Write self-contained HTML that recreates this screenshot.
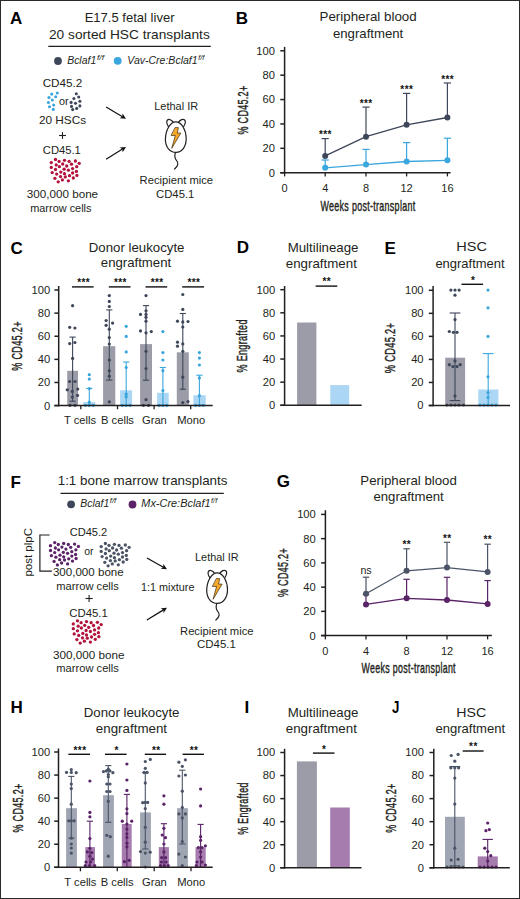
<!DOCTYPE html><html><head><meta charset="utf-8"><style>html,body{margin:0;padding:0;background:#fff}svg{display:block}text{font-family:"Liberation Sans",sans-serif}.cd{stroke:#231f20;stroke-width:.4px;letter-spacing:.5px}</style></head><body>
<svg width="520" height="899" viewBox="0 0 520 899" fill="#231f20">
<rect x="0" y="0" width="520" height="899" fill="#fff"/>
<text x="10" y="24" font-size="17" font-weight="bold" fill="#000">A</text>
<text x="129.6" y="21.8" font-size="12.8" text-anchor="middle" textLength="89.9" lengthAdjust="spacingAndGlyphs">E17.5 fetal liver</text>
<text x="129.4" y="38.7" font-size="12.8" text-anchor="middle" textLength="160.8" lengthAdjust="spacingAndGlyphs">20 sorted HSC transplants</text>
<line x1="48.3" y1="46.3" x2="210.8" y2="46.3" stroke="#231f20" stroke-width="1.2"/>
<circle cx="58" cy="61" r="3.9" fill="#3e4759"/>
<text x="67.2" y="63.8" font-size="10.3" textLength="29" lengthAdjust="spacingAndGlyphs" font-style="italic">Bclaf1</text>
<text x="96.9" y="59.6" font-size="7.4" textLength="7.2" lengthAdjust="spacingAndGlyphs" font-style="italic">f/f</text>
<circle cx="117.7" cy="60.8" r="3.9" fill="#3aa6de"/>
<text x="127.3" y="63.8" font-size="10.3" textLength="70.3" lengthAdjust="spacingAndGlyphs" font-style="italic">Vav-Cre:Bclaf1</text>
<text x="198.2" y="59.6" font-size="7.4" textLength="6.2" lengthAdjust="spacingAndGlyphs" font-style="italic">f/f</text>
<text x="62.5" y="86.9" font-size="10.4" text-anchor="middle" textLength="39.7" lengthAdjust="spacingAndGlyphs">CD45.2</text>
<circle cx="51.7" cy="94.1" r="1.55" fill="#3aa6de"/>
<circle cx="57.3" cy="93" r="1.55" fill="#3aa6de"/>
<circle cx="49" cy="97.5" r="1.55" fill="#3aa6de"/>
<circle cx="55.7" cy="96.7" r="1.55" fill="#3aa6de"/>
<circle cx="52.3" cy="100" r="1.55" fill="#3aa6de"/>
<circle cx="48.4" cy="102.5" r="1.55" fill="#3aa6de"/>
<circle cx="53.7" cy="105" r="1.55" fill="#3aa6de"/>
<circle cx="49.5" cy="106.7" r="1.55" fill="#3aa6de"/>
<circle cx="53.3" cy="109.4" r="1.55" fill="#3aa6de"/>
<circle cx="76.3" cy="93.8" r="1.55" fill="#3e4759"/>
<circle cx="78.7" cy="97" r="1.55" fill="#3e4759"/>
<circle cx="73.9" cy="98.5" r="1.55" fill="#3e4759"/>
<circle cx="79.9" cy="101.3" r="1.55" fill="#3e4759"/>
<circle cx="71.1" cy="102.4" r="1.55" fill="#3e4759"/>
<circle cx="75.5" cy="103.2" r="1.55" fill="#3e4759"/>
<circle cx="79.9" cy="105.9" r="1.55" fill="#3e4759"/>
<circle cx="71.5" cy="106.4" r="1.55" fill="#3e4759"/>
<circle cx="76.7" cy="108.4" r="1.55" fill="#3e4759"/>
<circle cx="72.7" cy="109.6" r="1.55" fill="#3e4759"/>
<text x="63.7" y="104.6" font-size="10.4" text-anchor="middle" textLength="9.6" lengthAdjust="spacingAndGlyphs">or</text>
<text x="62.55" y="123.8" font-size="10.4" text-anchor="middle" textLength="47.3" lengthAdjust="spacingAndGlyphs">20 HSCs</text>
<line x1="59" y1="135.5" x2="66" y2="135.5" stroke="#231f20" stroke-width="1.1"/>
<line x1="62.5" y1="132.1" x2="62.5" y2="138.9" stroke="#231f20" stroke-width="1.1"/>
<text x="61.8" y="154.2" font-size="10.4" text-anchor="middle" textLength="38" lengthAdjust="spacingAndGlyphs">CD45.1</text>
<circle cx="55.5" cy="159.5" r="1.65" fill="#b3123a"/>
<circle cx="59.1" cy="161.4" r="1.65" fill="#b3123a"/>
<circle cx="64.5" cy="160.3" r="1.65" fill="#b3123a"/>
<circle cx="69.1" cy="161.4" r="1.65" fill="#b3123a"/>
<circle cx="75.4" cy="161" r="1.65" fill="#b3123a"/>
<circle cx="79.2" cy="163.3" r="1.65" fill="#b3123a"/>
<circle cx="51.3" cy="162.6" r="1.65" fill="#b3123a"/>
<circle cx="56.2" cy="164.9" r="1.65" fill="#b3123a"/>
<circle cx="62.7" cy="164" r="1.65" fill="#b3123a"/>
<circle cx="71.5" cy="164.2" r="1.65" fill="#b3123a"/>
<circle cx="66.7" cy="166" r="1.65" fill="#b3123a"/>
<circle cx="59.4" cy="166.7" r="1.65" fill="#b3123a"/>
<circle cx="76.7" cy="166.7" r="1.65" fill="#b3123a"/>
<circle cx="51.3" cy="167.4" r="1.65" fill="#b3123a"/>
<circle cx="55.5" cy="169.5" r="1.65" fill="#b3123a"/>
<circle cx="64.1" cy="169.2" r="1.65" fill="#b3123a"/>
<circle cx="72.6" cy="168.6" r="1.65" fill="#b3123a"/>
<circle cx="68.4" cy="170.2" r="1.65" fill="#b3123a"/>
<circle cx="76.4" cy="171.4" r="1.65" fill="#b3123a"/>
<circle cx="52.2" cy="172.6" r="1.65" fill="#b3123a"/>
<circle cx="60.8" cy="172.1" r="1.65" fill="#b3123a"/>
<circle cx="64.5" cy="173.7" r="1.65" fill="#b3123a"/>
<circle cx="56.7" cy="174.1" r="1.65" fill="#b3123a"/>
<circle cx="72.6" cy="173" r="1.65" fill="#b3123a"/>
<circle cx="69.5" cy="175.7" r="1.65" fill="#b3123a"/>
<circle cx="76.9" cy="175.4" r="1.65" fill="#b3123a"/>
<circle cx="60.5" cy="176.6" r="1.65" fill="#b3123a"/>
<circle cx="65.3" cy="176.9" r="1.65" fill="#b3123a"/>
<circle cx="54.9" cy="178.3" r="1.65" fill="#b3123a"/>
<circle cx="73.3" cy="178" r="1.65" fill="#b3123a"/>
<circle cx="62.4" cy="179.9" r="1.65" fill="#b3123a"/>
<circle cx="68.4" cy="180.8" r="1.65" fill="#b3123a"/>
<circle cx="58.2" cy="181.8" r="1.65" fill="#b3123a"/>
<text x="62.45" y="198.2" font-size="10.4" text-anchor="middle" textLength="71.3" lengthAdjust="spacingAndGlyphs">300,000 bone</text>
<text x="60.85" y="211.6" font-size="10.4" text-anchor="middle" textLength="61.3" lengthAdjust="spacingAndGlyphs">marrow cells</text>
<line x1="106.1" y1="107" x2="122.04" y2="116.45" stroke="#111" stroke-width="1.25"/>
<path d="M126,118.8 L119.81,118.27 L122.22,116.56 L122.56,113.62 Z" fill="#111"/>
<line x1="106.1" y1="159.2" x2="122.09" y2="149.32" stroke="#111" stroke-width="1.25"/>
<path d="M126,146.9 L122.66,152.14 L122.26,149.21 L119.82,147.55 Z" fill="#111"/>
<text x="176.2" y="110.4" font-size="10.4" text-anchor="middle" textLength="43.9" lengthAdjust="spacingAndGlyphs">Lethal IR</text>
<g transform="translate(0 0)" fill="none" stroke="#231f20" stroke-width="1.2" stroke-linecap="round" stroke-linejoin="round">
<path d="M168.7,126.9 C167.1,124.6 166.1,121.6 167.5,120 C168.9,118.7 171.6,119.8 173.3,122.4"/>
<path d="M183.7,126.5 C185.2,124.1 185.8,121.1 184.4,119.8 C183,118.6 180.3,119.7 178.6,122.1"/>
<path d="M175.8,121.8 C181.5,121.8 186.2,130 186.2,138.5 C186.2,146.8 181.8,152.4 176,152.4 C170,152.4 165.4,147 165.4,139.8 C165.4,130.5 170.2,121.8 175.8,121.8 Z" fill="#fff"/>
<path d="M175.4,152.6 C174.4,155.8 174.7,158.4 176.6,160.6 C178.6,162.8 178.5,165.6 174.6,169"/>
<path d="M175.4,127.6 L178.4,127.6 L177.3,133.1 L180.8,133.1 L171.8,148.3 L175.3,135.4 L171.4,135.4 Z" fill="#f5a82a" stroke="#3b2a0c" stroke-width="0.7"/>
</g>
<text x="176.35" y="183.8" font-size="10.4" text-anchor="middle" textLength="73.5" lengthAdjust="spacingAndGlyphs">Recipient mice</text>
<text x="175.2" y="197.5" font-size="10.4" text-anchor="middle" textLength="38.4" lengthAdjust="spacingAndGlyphs">CD45.1</text>
<text x="235.8" y="24.4" font-size="17" font-weight="bold" fill="#000">B</text>
<text x="368.1" y="21.3" font-size="12.4" text-anchor="middle" textLength="97.2" lengthAdjust="spacingAndGlyphs">Peripheral blood</text>
<text x="368.1" y="38" font-size="12.4" text-anchor="middle" textLength="70.4" lengthAdjust="spacingAndGlyphs">engraftment</text>
<text x="247.6" y="110" font-size="13.8" text-anchor="middle" textLength="49" lengthAdjust="spacingAndGlyphs" transform="rotate(-90 247.6 110)" class="cd">% CD45.2+</text>
<line x1="284.6" y1="172.7" x2="284.6" y2="176.4" stroke="#231f20" stroke-width="1.3"/>
<text x="284.6" y="191.6" font-size="11" text-anchor="middle">0</text>
<line x1="325.2" y1="172.7" x2="325.2" y2="176.4" stroke="#231f20" stroke-width="1.3"/>
<text x="325.2" y="191.6" font-size="11" text-anchor="middle">4</text>
<line x1="366" y1="172.7" x2="366" y2="176.4" stroke="#231f20" stroke-width="1.3"/>
<text x="366" y="191.6" font-size="11" text-anchor="middle">8</text>
<line x1="406.6" y1="172.7" x2="406.6" y2="176.4" stroke="#231f20" stroke-width="1.3"/>
<text x="406.6" y="191.6" font-size="11" text-anchor="middle">12</text>
<line x1="447.4" y1="172.7" x2="447.4" y2="176.4" stroke="#231f20" stroke-width="1.3"/>
<text x="447.4" y="191.6" font-size="11" text-anchor="middle">16</text>
<text x="368" y="210.5" font-size="13.9" text-anchor="middle" textLength="95" lengthAdjust="spacingAndGlyphs" class="cd">Weeks post-transplant</text>
<line x1="325.2" y1="160" x2="325.2" y2="167.8" stroke="#3aa6de" stroke-width="1.2"/>
<line x1="321.6" y1="160" x2="328.8" y2="160" stroke="#3aa6de" stroke-width="1.2"/>
<line x1="366" y1="149.4" x2="366" y2="164.6" stroke="#3aa6de" stroke-width="1.2"/>
<line x1="362.4" y1="149.4" x2="369.6" y2="149.4" stroke="#3aa6de" stroke-width="1.2"/>
<line x1="406.6" y1="142.6" x2="406.6" y2="161.5" stroke="#3aa6de" stroke-width="1.2"/>
<line x1="403" y1="142.6" x2="410.2" y2="142.6" stroke="#3aa6de" stroke-width="1.2"/>
<line x1="447.4" y1="138.2" x2="447.4" y2="160.3" stroke="#3aa6de" stroke-width="1.2"/>
<line x1="443.8" y1="138.2" x2="451" y2="138.2" stroke="#3aa6de" stroke-width="1.2"/>
<polyline points="325.2,167.8 366,164.6 406.6,161.5 447.4,160.3" fill="none" stroke="#3aa6de" stroke-width="1.3"/>
<line x1="325.2" y1="138.6" x2="325.2" y2="155.9" stroke="#3e4759" stroke-width="1.2"/>
<line x1="321.6" y1="138.6" x2="328.8" y2="138.6" stroke="#3e4759" stroke-width="1.2"/>
<line x1="366" y1="107.1" x2="366" y2="136.7" stroke="#3e4759" stroke-width="1.2"/>
<line x1="362.4" y1="107.1" x2="369.6" y2="107.1" stroke="#3e4759" stroke-width="1.2"/>
<line x1="406.6" y1="93.4" x2="406.6" y2="124.8" stroke="#3e4759" stroke-width="1.2"/>
<line x1="403" y1="93.4" x2="410.2" y2="93.4" stroke="#3e4759" stroke-width="1.2"/>
<line x1="447.4" y1="83" x2="447.4" y2="117.5" stroke="#3e4759" stroke-width="1.2"/>
<line x1="443.8" y1="83" x2="451" y2="83" stroke="#3e4759" stroke-width="1.2"/>
<polyline points="325.2,155.9 366,136.7 406.6,124.8 447.4,117.5" fill="none" stroke="#3e4759" stroke-width="1.3"/>
<circle cx="325.2" cy="167.8" r="3" fill="#3aa6de"/>
<circle cx="366" cy="164.6" r="3" fill="#3aa6de"/>
<circle cx="406.6" cy="161.5" r="3" fill="#3aa6de"/>
<circle cx="447.4" cy="160.3" r="3" fill="#3aa6de"/>
<circle cx="325.2" cy="155.9" r="3" fill="#3e4759"/>
<circle cx="366" cy="136.7" r="3" fill="#3e4759"/>
<circle cx="406.6" cy="124.8" r="3" fill="#3e4759"/>
<circle cx="447.4" cy="117.5" r="3" fill="#3e4759"/>
<text x="325.4" y="138.1" font-size="10" text-anchor="middle" font-weight="bold" fill="#111" letter-spacing="0.4">***</text>
<text x="366.2" y="106.8" font-size="10" text-anchor="middle" font-weight="bold" fill="#111" letter-spacing="0.4">***</text>
<text x="406.8" y="92.9" font-size="10" text-anchor="middle" font-weight="bold" fill="#111" letter-spacing="0.4">***</text>
<text x="447.6" y="82.6" font-size="10" text-anchor="middle" font-weight="bold" fill="#111" letter-spacing="0.4">***</text>
<text x="10.4" y="253.9" font-size="17" font-weight="bold" fill="#000">C</text>
<text x="136.6" y="252.3" font-size="12.4" text-anchor="middle" textLength="95.7" lengthAdjust="spacingAndGlyphs">Donor leukocyte</text>
<text x="136" y="267.3" font-size="12.4" text-anchor="middle" textLength="70.4" lengthAdjust="spacingAndGlyphs">engraftment</text>
<text x="21.6" y="346" font-size="13.8" text-anchor="middle" textLength="49.5" lengthAdjust="spacingAndGlyphs" transform="rotate(-90 21.6 346)" class="cd">% CD45.2+</text>
<line x1="80.8" y1="405.6" x2="80.8" y2="409.3" stroke="#231f20" stroke-width="1.3"/>
<line x1="117.5" y1="405.6" x2="117.5" y2="409.3" stroke="#231f20" stroke-width="1.3"/>
<line x1="154.1" y1="405.6" x2="154.1" y2="409.3" stroke="#231f20" stroke-width="1.3"/>
<line x1="190.7" y1="405.6" x2="190.7" y2="409.3" stroke="#231f20" stroke-width="1.3"/>
<text x="80" y="424.3" font-size="11.2" text-anchor="middle">T cells</text>
<text x="117.5" y="424.3" font-size="11.2" text-anchor="middle">B cells</text>
<text x="154.4" y="424.3" font-size="11.2" text-anchor="middle">Gran</text>
<text x="191.2" y="424.3" font-size="11.2" text-anchor="middle">Mono</text>
<rect x="67.2" y="370.8" width="10.8" height="34.8" fill="#9c9ca8"/>
<line x1="72.6" y1="337.1" x2="72.6" y2="401.2" stroke="#3e4759" stroke-width="1.1"/>
<line x1="69.5" y1="337.1" x2="75.7" y2="337.1" stroke="#3e4759" stroke-width="1.1"/>
<line x1="69.5" y1="401.2" x2="75.7" y2="401.2" stroke="#3e4759" stroke-width="1.1"/>
<circle cx="72.6" cy="305.7" r="1.6" fill="#3e4759"/>
<circle cx="69.7" cy="327.3" r="1.6" fill="#3e4759"/>
<circle cx="74.9" cy="328" r="1.6" fill="#3e4759"/>
<circle cx="69.7" cy="343.6" r="1.6" fill="#3e4759"/>
<circle cx="74.9" cy="342.5" r="1.6" fill="#3e4759"/>
<circle cx="72.6" cy="358.4" r="1.6" fill="#3e4759"/>
<circle cx="69.6" cy="381.5" r="1.6" fill="#3e4759"/>
<circle cx="75" cy="381.5" r="1.6" fill="#3e4759"/>
<circle cx="67.3" cy="389.8" r="1.6" fill="#3e4759"/>
<circle cx="77.7" cy="389.1" r="1.6" fill="#3e4759"/>
<circle cx="72.3" cy="391.4" r="1.6" fill="#3e4759"/>
<circle cx="77.5" cy="395.4" r="1.6" fill="#3e4759"/>
<circle cx="72.3" cy="397.1" r="1.6" fill="#3e4759"/>
<circle cx="70" cy="405.3" r="1.6" fill="#3e4759"/>
<circle cx="75" cy="405.3" r="1.6" fill="#3e4759"/>
<rect x="103.1" y="346.2" width="12.2" height="59.4" fill="#9c9ca8"/>
<line x1="109.3" y1="309.9" x2="109.3" y2="380.1" stroke="#3e4759" stroke-width="1.1"/>
<line x1="106.2" y1="309.9" x2="112.4" y2="309.9" stroke="#3e4759" stroke-width="1.1"/>
<line x1="106.2" y1="380.1" x2="112.4" y2="380.1" stroke="#3e4759" stroke-width="1.1"/>
<circle cx="109.3" cy="295.6" r="1.6" fill="#3e4759"/>
<circle cx="109.3" cy="301.4" r="1.6" fill="#3e4759"/>
<circle cx="109.3" cy="306.5" r="1.6" fill="#3e4759"/>
<circle cx="106.1" cy="320.5" r="1.6" fill="#3e4759"/>
<circle cx="106.1" cy="325.3" r="1.6" fill="#3e4759"/>
<circle cx="112.6" cy="323.1" r="1.6" fill="#3e4759"/>
<circle cx="109.3" cy="329.2" r="1.6" fill="#3e4759"/>
<circle cx="109.3" cy="337.6" r="1.6" fill="#3e4759"/>
<circle cx="109.3" cy="344.1" r="1.6" fill="#3e4759"/>
<circle cx="109.3" cy="360" r="1.6" fill="#3e4759"/>
<circle cx="109.3" cy="370.8" r="1.6" fill="#3e4759"/>
<circle cx="109.3" cy="376.2" r="1.6" fill="#3e4759"/>
<circle cx="109.3" cy="401.8" r="1.6" fill="#3e4759"/>
<rect x="140.1" y="344.1" width="11.9" height="61.5" fill="#9c9ca8"/>
<line x1="146" y1="305.6" x2="146" y2="380.2" stroke="#3e4759" stroke-width="1.1"/>
<line x1="142.9" y1="305.6" x2="149.1" y2="305.6" stroke="#3e4759" stroke-width="1.1"/>
<line x1="142.9" y1="380.2" x2="149.1" y2="380.2" stroke="#3e4759" stroke-width="1.1"/>
<circle cx="146" cy="295.6" r="1.6" fill="#3e4759"/>
<circle cx="146" cy="310.8" r="1.6" fill="#3e4759"/>
<circle cx="140.5" cy="314.4" r="1.6" fill="#3e4759"/>
<circle cx="146" cy="314.4" r="1.6" fill="#3e4759"/>
<circle cx="146" cy="317.3" r="1.6" fill="#3e4759"/>
<circle cx="146" cy="321.2" r="1.6" fill="#3e4759"/>
<circle cx="140.5" cy="330.9" r="1.6" fill="#3e4759"/>
<circle cx="151.3" cy="331.6" r="1.6" fill="#3e4759"/>
<circle cx="146" cy="332.8" r="1.6" fill="#3e4759"/>
<circle cx="146" cy="351.3" r="1.6" fill="#3e4759"/>
<circle cx="146" cy="368.5" r="1.6" fill="#3e4759"/>
<circle cx="146" cy="399.7" r="1.6" fill="#3e4759"/>
<circle cx="143.4" cy="405.3" r="1.6" fill="#3e4759"/>
<circle cx="148.6" cy="405.3" r="1.6" fill="#3e4759"/>
<rect x="176.8" y="352.3" width="12" height="53.3" fill="#9c9ca8"/>
<line x1="182.8" y1="313.5" x2="182.8" y2="389.2" stroke="#3e4759" stroke-width="1.1"/>
<line x1="179.7" y1="313.5" x2="185.9" y2="313.5" stroke="#3e4759" stroke-width="1.1"/>
<line x1="179.7" y1="389.2" x2="185.9" y2="389.2" stroke="#3e4759" stroke-width="1.1"/>
<circle cx="182.8" cy="294.5" r="1.6" fill="#3e4759"/>
<circle cx="182.8" cy="309.4" r="1.6" fill="#3e4759"/>
<circle cx="177.5" cy="321.2" r="1.6" fill="#3e4759"/>
<circle cx="182.8" cy="321.9" r="1.6" fill="#3e4759"/>
<circle cx="188" cy="321.5" r="1.6" fill="#3e4759"/>
<circle cx="182.8" cy="327" r="1.6" fill="#3e4759"/>
<circle cx="177.5" cy="342.2" r="1.6" fill="#3e4759"/>
<circle cx="177.5" cy="346.2" r="1.6" fill="#3e4759"/>
<circle cx="182.8" cy="343.9" r="1.6" fill="#3e4759"/>
<circle cx="182.8" cy="351.3" r="1.6" fill="#3e4759"/>
<circle cx="182.8" cy="377.2" r="1.6" fill="#3e4759"/>
<circle cx="188" cy="401.5" r="1.6" fill="#3e4759"/>
<circle cx="182.8" cy="402.6" r="1.6" fill="#3e4759"/>
<rect x="83.1" y="402.2" width="12.3" height="3.4" fill="#abd6f4"/>
<line x1="89.3" y1="388.5" x2="89.3" y2="405.6" stroke="#3aa6de" stroke-width="1.1"/>
<line x1="86.2" y1="388.5" x2="92.4" y2="388.5" stroke="#3aa6de" stroke-width="1.1"/>
<circle cx="89.3" cy="374.7" r="1.6" fill="#3aa6de"/>
<circle cx="89.3" cy="379.1" r="1.6" fill="#3aa6de"/>
<circle cx="89.3" cy="388.5" r="1.6" fill="#3aa6de"/>
<circle cx="89.3" cy="402.2" r="1.6" fill="#3aa6de"/>
<circle cx="85.5" cy="405.3" r="1.6" fill="#3aa6de"/>
<circle cx="89.3" cy="405.3" r="1.6" fill="#3aa6de"/>
<circle cx="93.1" cy="405.3" r="1.6" fill="#3aa6de"/>
<rect x="120.1" y="390.3" width="12" height="15.3" fill="#abd6f4"/>
<line x1="126.2" y1="362" x2="126.2" y2="405.6" stroke="#3aa6de" stroke-width="1.1"/>
<line x1="123.1" y1="362" x2="129.3" y2="362" stroke="#3aa6de" stroke-width="1.1"/>
<circle cx="126.2" cy="326.3" r="1.6" fill="#3aa6de"/>
<circle cx="126.2" cy="336.4" r="1.6" fill="#3aa6de"/>
<circle cx="126.2" cy="351.9" r="1.6" fill="#3aa6de"/>
<circle cx="126.2" cy="367.5" r="1.6" fill="#3aa6de"/>
<circle cx="126.2" cy="394.2" r="1.6" fill="#3aa6de"/>
<circle cx="126.2" cy="396.8" r="1.6" fill="#3aa6de"/>
<circle cx="122.4" cy="405.3" r="1.6" fill="#3aa6de"/>
<circle cx="126.2" cy="405.3" r="1.6" fill="#3aa6de"/>
<circle cx="130" cy="405.3" r="1.6" fill="#3aa6de"/>
<rect x="157.1" y="392.8" width="11.6" height="12.8" fill="#abd6f4"/>
<line x1="162.9" y1="367.5" x2="162.9" y2="405.6" stroke="#3aa6de" stroke-width="1.1"/>
<line x1="159.8" y1="367.5" x2="166" y2="367.5" stroke="#3aa6de" stroke-width="1.1"/>
<circle cx="162.9" cy="331.6" r="1.6" fill="#3aa6de"/>
<circle cx="162.9" cy="352.6" r="1.6" fill="#3aa6de"/>
<circle cx="162.9" cy="360" r="1.6" fill="#3aa6de"/>
<circle cx="162.9" cy="370.7" r="1.6" fill="#3aa6de"/>
<circle cx="162.9" cy="390.6" r="1.6" fill="#3aa6de"/>
<circle cx="159.1" cy="405.3" r="1.6" fill="#3aa6de"/>
<circle cx="162.9" cy="405.3" r="1.6" fill="#3aa6de"/>
<circle cx="166.7" cy="405.3" r="1.6" fill="#3aa6de"/>
<rect x="193.4" y="395.3" width="12.3" height="10.3" fill="#abd6f4"/>
<line x1="199.4" y1="375.2" x2="199.4" y2="405.6" stroke="#3aa6de" stroke-width="1.1"/>
<line x1="196.3" y1="375.2" x2="202.5" y2="375.2" stroke="#3aa6de" stroke-width="1.1"/>
<circle cx="199.4" cy="352.6" r="1.6" fill="#3aa6de"/>
<circle cx="199.4" cy="358.1" r="1.6" fill="#3aa6de"/>
<circle cx="199.4" cy="365" r="1.6" fill="#3aa6de"/>
<circle cx="199.4" cy="377.9" r="1.6" fill="#3aa6de"/>
<circle cx="199.4" cy="395.7" r="1.6" fill="#3aa6de"/>
<circle cx="195.6" cy="405.3" r="1.6" fill="#3aa6de"/>
<circle cx="199.4" cy="405.3" r="1.6" fill="#3aa6de"/>
<circle cx="203.2" cy="405.3" r="1.6" fill="#3aa6de"/>
<line x1="72" y1="286.9" x2="93.6" y2="286.9" stroke="#111" stroke-width="1.4"/>
<text x="83.6" y="286.2" font-size="10" text-anchor="middle" font-weight="bold" fill="#111" letter-spacing="0.4">***</text>
<line x1="108.8" y1="286.9" x2="130.5" y2="286.9" stroke="#111" stroke-width="1.4"/>
<text x="120.45" y="286.2" font-size="10" text-anchor="middle" font-weight="bold" fill="#111" letter-spacing="0.4">***</text>
<line x1="145.5" y1="286.9" x2="167.2" y2="286.9" stroke="#111" stroke-width="1.4"/>
<text x="157.15" y="286.2" font-size="10" text-anchor="middle" font-weight="bold" fill="#111" letter-spacing="0.4">***</text>
<line x1="182.2" y1="286.9" x2="204.1" y2="286.9" stroke="#111" stroke-width="1.4"/>
<text x="193.95" y="286.2" font-size="10" text-anchor="middle" font-weight="bold" fill="#111" letter-spacing="0.4">***</text>
<text x="236.7" y="253.3" font-size="17" font-weight="bold" fill="#000">D</text>
<text x="323.1" y="251.5" font-size="12.4" text-anchor="middle" textLength="70.8" lengthAdjust="spacingAndGlyphs">Multilineage</text>
<text x="321.35" y="267.6" font-size="12.4" text-anchor="middle" textLength="71.1" lengthAdjust="spacingAndGlyphs">engraftment</text>
<text x="246.6" y="345.9" font-size="13.8" text-anchor="middle" textLength="53.3" lengthAdjust="spacingAndGlyphs" transform="rotate(-90 246.6 345.9)" class="cd">% Engrafted</text>
<rect x="297.1" y="322.5" width="19.3" height="82.8" fill="#9c9ca8"/>
<rect x="330.3" y="385.1" width="18.9" height="20.2" fill="#abd6f4"/>
<line x1="315.6" y1="286.1" x2="337.3" y2="286.1" stroke="#111" stroke-width="1.4"/>
<text x="326.7" y="285.2" font-size="10" text-anchor="middle" font-weight="bold" fill="#111" letter-spacing="0.4">**</text>
<text x="384.6" y="254.2" font-size="17" font-weight="bold" fill="#000">E</text>
<text x="471.6" y="251.2" font-size="12.4" text-anchor="middle" textLength="30.7" lengthAdjust="spacingAndGlyphs">HSC</text>
<text x="470" y="268.1" font-size="12.4" text-anchor="middle" textLength="69.2" lengthAdjust="spacingAndGlyphs">engraftment</text>
<text x="395.2" y="348" font-size="13.8" text-anchor="middle" textLength="50.6" lengthAdjust="spacingAndGlyphs" transform="rotate(-90 395.2 348)" class="cd">% CD45.2+</text>
<rect x="445.2" y="357.7" width="19.9" height="47.8" fill="#9c9ca8"/>
<line x1="455" y1="313" x2="455" y2="400.6" stroke="#3e4759" stroke-width="1.1"/>
<line x1="449.6" y1="313" x2="460.4" y2="313" stroke="#3e4759" stroke-width="1.1"/>
<line x1="449.6" y1="400.6" x2="460.4" y2="400.6" stroke="#3e4759" stroke-width="1.1"/>
<circle cx="450.9" cy="290.1" r="1.6" fill="#3e4759"/>
<circle cx="455" cy="290.1" r="1.6" fill="#3e4759"/>
<circle cx="459.1" cy="290.1" r="1.6" fill="#3e4759"/>
<circle cx="455" cy="295.2" r="1.6" fill="#3e4759"/>
<circle cx="455" cy="319.6" r="1.6" fill="#3e4759"/>
<circle cx="449.3" cy="331.5" r="1.6" fill="#3e4759"/>
<circle cx="453.4" cy="332.3" r="1.6" fill="#3e4759"/>
<circle cx="457" cy="332.3" r="1.6" fill="#3e4759"/>
<circle cx="455" cy="360.9" r="1.6" fill="#3e4759"/>
<circle cx="449.3" cy="364.7" r="1.6" fill="#3e4759"/>
<circle cx="452.9" cy="366.6" r="1.6" fill="#3e4759"/>
<circle cx="457" cy="366.6" r="1.6" fill="#3e4759"/>
<circle cx="460.2" cy="364.7" r="1.6" fill="#3e4759"/>
<circle cx="455" cy="396" r="1.6" fill="#3e4759"/>
<circle cx="447" cy="405" r="1.6" fill="#3e4759"/>
<circle cx="451" cy="405" r="1.6" fill="#3e4759"/>
<circle cx="455" cy="405" r="1.6" fill="#3e4759"/>
<circle cx="459" cy="405" r="1.6" fill="#3e4759"/>
<circle cx="463.5" cy="405" r="1.6" fill="#3e4759"/>
<rect x="478.3" y="389.5" width="20.1" height="16" fill="#abd6f4"/>
<line x1="488.2" y1="353.6" x2="488.2" y2="405.5" stroke="#3aa6de" stroke-width="1.1"/>
<line x1="482.8" y1="353.6" x2="493.6" y2="353.6" stroke="#3aa6de" stroke-width="1.1"/>
<circle cx="488" cy="290.1" r="1.6" fill="#3aa6de"/>
<circle cx="488" cy="307.8" r="1.6" fill="#3aa6de"/>
<circle cx="488" cy="336.4" r="1.6" fill="#3aa6de"/>
<circle cx="488" cy="376.8" r="1.6" fill="#3aa6de"/>
<circle cx="488" cy="392.5" r="1.6" fill="#3aa6de"/>
<circle cx="488" cy="397.4" r="1.6" fill="#3aa6de"/>
<circle cx="480" cy="405" r="1.6" fill="#3aa6de"/>
<circle cx="484" cy="405" r="1.6" fill="#3aa6de"/>
<circle cx="488" cy="405" r="1.6" fill="#3aa6de"/>
<circle cx="492" cy="405" r="1.6" fill="#3aa6de"/>
<circle cx="496" cy="405" r="1.6" fill="#3aa6de"/>
<line x1="461.5" y1="284.3" x2="483.1" y2="284.3" stroke="#111" stroke-width="1.4"/>
<text x="473.1" y="283.5" font-size="10" text-anchor="middle" font-weight="bold" fill="#111" letter-spacing="0.4">*</text>
<text x="10.4" y="487.6" font-size="17" font-weight="bold" fill="#000">F</text>
<text x="142.6" y="485.3" font-size="12.6" text-anchor="middle" textLength="169.8" lengthAdjust="spacingAndGlyphs">1:1 bone marrow transplants</text>
<line x1="60.5" y1="493.3" x2="223.8" y2="493.3" stroke="#231f20" stroke-width="1.2"/>
<circle cx="71.1" cy="504.3" r="3.9" fill="#3e4759"/>
<text x="80.3" y="507.3" font-size="10.3" textLength="29" lengthAdjust="spacingAndGlyphs" font-style="italic">Bclaf1</text>
<text x="109.7" y="503" font-size="7.4" textLength="6.6" lengthAdjust="spacingAndGlyphs" font-style="italic">f/f</text>
<circle cx="132.5" cy="504.5" r="3.9" fill="#5a2267"/>
<text x="141.3" y="507.3" font-size="10.3" textLength="69.2" lengthAdjust="spacingAndGlyphs" font-style="italic">Mx-Cre:Bclaf1</text>
<text x="211" y="503" font-size="7.4" textLength="6.2" lengthAdjust="spacingAndGlyphs" font-style="italic">f/f</text>
<path d="M49.6,535 L39.9,535 L39.9,571.2 L51.9,571.2" fill="none" stroke="#231f20" stroke-width="1.2"/>
<text x="32.1" y="552.3" font-size="11.2" text-anchor="middle" textLength="48.5" lengthAdjust="spacingAndGlyphs" transform="rotate(-90 32.1 552.3)">post plpC</text>
<text x="88.5" y="535.7" font-size="10.4" text-anchor="middle" textLength="37.6" lengthAdjust="spacingAndGlyphs">CD45.2</text>
<circle cx="54.7" cy="542.6" r="1.65" fill="#5a2267"/>
<circle cx="58.3" cy="544.5" r="1.65" fill="#5a2267"/>
<circle cx="63.7" cy="543.4" r="1.65" fill="#5a2267"/>
<circle cx="68.3" cy="544.5" r="1.65" fill="#5a2267"/>
<circle cx="74.6" cy="544.1" r="1.65" fill="#5a2267"/>
<circle cx="78.4" cy="546.4" r="1.65" fill="#5a2267"/>
<circle cx="50.5" cy="545.7" r="1.65" fill="#5a2267"/>
<circle cx="55.4" cy="548" r="1.65" fill="#5a2267"/>
<circle cx="61.9" cy="547.1" r="1.65" fill="#5a2267"/>
<circle cx="70.7" cy="547.3" r="1.65" fill="#5a2267"/>
<circle cx="65.9" cy="549.1" r="1.65" fill="#5a2267"/>
<circle cx="58.6" cy="549.8" r="1.65" fill="#5a2267"/>
<circle cx="75.9" cy="549.8" r="1.65" fill="#5a2267"/>
<circle cx="50.5" cy="550.5" r="1.65" fill="#5a2267"/>
<circle cx="54.7" cy="552.6" r="1.65" fill="#5a2267"/>
<circle cx="63.3" cy="552.3" r="1.65" fill="#5a2267"/>
<circle cx="71.8" cy="551.7" r="1.65" fill="#5a2267"/>
<circle cx="67.6" cy="553.3" r="1.65" fill="#5a2267"/>
<circle cx="75.6" cy="554.5" r="1.65" fill="#5a2267"/>
<circle cx="51.4" cy="555.7" r="1.65" fill="#5a2267"/>
<circle cx="60" cy="555.2" r="1.65" fill="#5a2267"/>
<circle cx="63.7" cy="556.8" r="1.65" fill="#5a2267"/>
<circle cx="55.9" cy="557.2" r="1.65" fill="#5a2267"/>
<circle cx="71.8" cy="556.1" r="1.65" fill="#5a2267"/>
<circle cx="68.7" cy="558.8" r="1.65" fill="#5a2267"/>
<circle cx="76.1" cy="558.5" r="1.65" fill="#5a2267"/>
<circle cx="59.7" cy="559.7" r="1.65" fill="#5a2267"/>
<circle cx="64.5" cy="560" r="1.65" fill="#5a2267"/>
<circle cx="54.1" cy="561.4" r="1.65" fill="#5a2267"/>
<circle cx="72.5" cy="561.1" r="1.65" fill="#5a2267"/>
<circle cx="61.6" cy="563" r="1.65" fill="#5a2267"/>
<circle cx="67.6" cy="563.9" r="1.65" fill="#5a2267"/>
<circle cx="57.4" cy="564.9" r="1.65" fill="#5a2267"/>
<text x="88.9" y="554.6" font-size="10.4" text-anchor="middle" textLength="9.3" lengthAdjust="spacingAndGlyphs">or</text>
<circle cx="105.4" cy="543.5" r="1.65" fill="#4a5466"/>
<circle cx="109" cy="545.4" r="1.65" fill="#4a5466"/>
<circle cx="114.4" cy="544.3" r="1.65" fill="#4a5466"/>
<circle cx="119" cy="545.4" r="1.65" fill="#4a5466"/>
<circle cx="125.3" cy="545" r="1.65" fill="#4a5466"/>
<circle cx="129.1" cy="547.3" r="1.65" fill="#4a5466"/>
<circle cx="101.2" cy="546.6" r="1.65" fill="#4a5466"/>
<circle cx="106.1" cy="548.9" r="1.65" fill="#4a5466"/>
<circle cx="112.6" cy="548" r="1.65" fill="#4a5466"/>
<circle cx="121.4" cy="548.2" r="1.65" fill="#4a5466"/>
<circle cx="116.6" cy="550" r="1.65" fill="#4a5466"/>
<circle cx="109.3" cy="550.7" r="1.65" fill="#4a5466"/>
<circle cx="126.6" cy="550.7" r="1.65" fill="#4a5466"/>
<circle cx="101.2" cy="551.4" r="1.65" fill="#4a5466"/>
<circle cx="105.4" cy="553.5" r="1.65" fill="#4a5466"/>
<circle cx="114" cy="553.2" r="1.65" fill="#4a5466"/>
<circle cx="122.5" cy="552.6" r="1.65" fill="#4a5466"/>
<circle cx="118.3" cy="554.2" r="1.65" fill="#4a5466"/>
<circle cx="126.3" cy="555.4" r="1.65" fill="#4a5466"/>
<circle cx="102.1" cy="556.6" r="1.65" fill="#4a5466"/>
<circle cx="110.7" cy="556.1" r="1.65" fill="#4a5466"/>
<circle cx="114.4" cy="557.7" r="1.65" fill="#4a5466"/>
<circle cx="106.6" cy="558.1" r="1.65" fill="#4a5466"/>
<circle cx="122.5" cy="557" r="1.65" fill="#4a5466"/>
<circle cx="119.4" cy="559.7" r="1.65" fill="#4a5466"/>
<circle cx="126.8" cy="559.4" r="1.65" fill="#4a5466"/>
<circle cx="110.4" cy="560.6" r="1.65" fill="#4a5466"/>
<circle cx="115.2" cy="560.9" r="1.65" fill="#4a5466"/>
<circle cx="104.8" cy="562.3" r="1.65" fill="#4a5466"/>
<circle cx="123.2" cy="562" r="1.65" fill="#4a5466"/>
<circle cx="112.3" cy="563.9" r="1.65" fill="#4a5466"/>
<circle cx="118.3" cy="564.8" r="1.65" fill="#4a5466"/>
<circle cx="108.1" cy="565.8" r="1.65" fill="#4a5466"/>
<text x="88.3" y="576.1" font-size="10.4" text-anchor="middle" textLength="70.8" lengthAdjust="spacingAndGlyphs">300,000 bone</text>
<text x="87.6" y="590" font-size="10.4" text-anchor="middle" textLength="62.5" lengthAdjust="spacingAndGlyphs">marrow cells</text>
<line x1="85.5" y1="598.5" x2="92.7" y2="598.5" stroke="#231f20" stroke-width="1.1"/>
<line x1="89.1" y1="595.1" x2="89.1" y2="601.9" stroke="#231f20" stroke-width="1.1"/>
<text x="88.5" y="616.5" font-size="10.4" text-anchor="middle" textLength="38.5" lengthAdjust="spacingAndGlyphs">CD45.1</text>
<circle cx="77.5" cy="620.8" r="1.65" fill="#b3123a"/>
<circle cx="81.1" cy="622.7" r="1.65" fill="#b3123a"/>
<circle cx="86.5" cy="621.6" r="1.65" fill="#b3123a"/>
<circle cx="91.1" cy="622.7" r="1.65" fill="#b3123a"/>
<circle cx="97.4" cy="622.3" r="1.65" fill="#b3123a"/>
<circle cx="101.2" cy="624.6" r="1.65" fill="#b3123a"/>
<circle cx="73.3" cy="623.9" r="1.65" fill="#b3123a"/>
<circle cx="78.2" cy="626.2" r="1.65" fill="#b3123a"/>
<circle cx="84.7" cy="625.3" r="1.65" fill="#b3123a"/>
<circle cx="93.5" cy="625.5" r="1.65" fill="#b3123a"/>
<circle cx="88.7" cy="627.3" r="1.65" fill="#b3123a"/>
<circle cx="81.4" cy="628" r="1.65" fill="#b3123a"/>
<circle cx="98.7" cy="628" r="1.65" fill="#b3123a"/>
<circle cx="73.3" cy="628.7" r="1.65" fill="#b3123a"/>
<circle cx="77.5" cy="630.8" r="1.65" fill="#b3123a"/>
<circle cx="86.1" cy="630.5" r="1.65" fill="#b3123a"/>
<circle cx="94.6" cy="629.9" r="1.65" fill="#b3123a"/>
<circle cx="90.4" cy="631.5" r="1.65" fill="#b3123a"/>
<circle cx="98.4" cy="632.7" r="1.65" fill="#b3123a"/>
<circle cx="74.2" cy="633.9" r="1.65" fill="#b3123a"/>
<circle cx="82.8" cy="633.4" r="1.65" fill="#b3123a"/>
<circle cx="86.5" cy="635" r="1.65" fill="#b3123a"/>
<circle cx="78.7" cy="635.4" r="1.65" fill="#b3123a"/>
<circle cx="94.6" cy="634.3" r="1.65" fill="#b3123a"/>
<circle cx="91.5" cy="637" r="1.65" fill="#b3123a"/>
<circle cx="98.9" cy="636.7" r="1.65" fill="#b3123a"/>
<circle cx="82.5" cy="637.9" r="1.65" fill="#b3123a"/>
<circle cx="87.3" cy="638.2" r="1.65" fill="#b3123a"/>
<circle cx="76.9" cy="639.6" r="1.65" fill="#b3123a"/>
<circle cx="95.3" cy="639.3" r="1.65" fill="#b3123a"/>
<circle cx="84.4" cy="641.2" r="1.65" fill="#b3123a"/>
<circle cx="90.4" cy="642.1" r="1.65" fill="#b3123a"/>
<circle cx="80.2" cy="643.1" r="1.65" fill="#b3123a"/>
<text x="88.8" y="659.2" font-size="10.4" text-anchor="middle" textLength="71.5" lengthAdjust="spacingAndGlyphs">300,000 bone</text>
<text x="87.6" y="672.3" font-size="10.4" text-anchor="middle" textLength="62.5" lengthAdjust="spacingAndGlyphs">marrow cells</text>
<line x1="146.9" y1="558" x2="162.98" y2="566.96" stroke="#111" stroke-width="1.25"/>
<path d="M167,569.2 L160.79,568.83 L163.16,567.06 L163.42,564.12 Z" fill="#111"/>
<line x1="146.9" y1="620" x2="163.08" y2="610.1" stroke="#111" stroke-width="1.25"/>
<path d="M167,607.7 L163.63,612.93 L163.25,610 L160.81,608.32 Z" fill="#111"/>
<text x="167.7" y="590.8" font-size="10.4" text-anchor="middle" textLength="53.5" lengthAdjust="spacingAndGlyphs">1:1 mixture</text>
<text x="216.8" y="561.2" font-size="10.4" text-anchor="middle" textLength="43.5" lengthAdjust="spacingAndGlyphs">Lethal IR</text>
<g transform="translate(41.3 451)" fill="none" stroke="#231f20" stroke-width="1.2" stroke-linecap="round" stroke-linejoin="round">
<path d="M168.7,126.9 C167.1,124.6 166.1,121.6 167.5,120 C168.9,118.7 171.6,119.8 173.3,122.4"/>
<path d="M183.7,126.5 C185.2,124.1 185.8,121.1 184.4,119.8 C183,118.6 180.3,119.7 178.6,122.1"/>
<path d="M175.8,121.8 C181.5,121.8 186.2,130 186.2,138.5 C186.2,146.8 181.8,152.4 176,152.4 C170,152.4 165.4,147 165.4,139.8 C165.4,130.5 170.2,121.8 175.8,121.8 Z" fill="#fff"/>
<path d="M175.4,152.6 C174.4,155.8 174.7,158.4 176.6,160.6 C178.6,162.8 178.5,165.6 174.6,169"/>
<path d="M175.4,127.6 L178.4,127.6 L177.3,133.1 L180.8,133.1 L171.8,148.3 L175.3,135.4 L171.4,135.4 Z" fill="#f5a82a" stroke="#3b2a0c" stroke-width="0.7"/>
</g>
<text x="216.8" y="634.5" font-size="10.4" text-anchor="middle" textLength="73.5" lengthAdjust="spacingAndGlyphs">Recipient mice</text>
<text x="216.4" y="647.8" font-size="10.4" text-anchor="middle" textLength="38.8" lengthAdjust="spacingAndGlyphs">CD45.1</text>
<text x="276.8" y="487.3" font-size="17" font-weight="bold" fill="#000">G</text>
<text x="408.6" y="484.8" font-size="12.4" text-anchor="middle" textLength="96.5" lengthAdjust="spacingAndGlyphs">Peripheral blood</text>
<text x="408.6" y="501.3" font-size="12.4" text-anchor="middle" textLength="70.4" lengthAdjust="spacingAndGlyphs">engraftment</text>
<text x="288.2" y="572.5" font-size="13.8" text-anchor="middle" textLength="49" lengthAdjust="spacingAndGlyphs" transform="rotate(-90 288.2 572.5)" class="cd">% CD45.2+</text>
<line x1="325.4" y1="635.6" x2="325.4" y2="639.4" stroke="#231f20" stroke-width="1.3"/>
<text x="325.4" y="654.5" font-size="11" text-anchor="middle">0</text>
<line x1="366" y1="635.6" x2="366" y2="639.4" stroke="#231f20" stroke-width="1.3"/>
<text x="366" y="654.5" font-size="11" text-anchor="middle">4</text>
<line x1="406.6" y1="635.6" x2="406.6" y2="639.4" stroke="#231f20" stroke-width="1.3"/>
<text x="406.6" y="654.5" font-size="11" text-anchor="middle">8</text>
<line x1="447" y1="635.6" x2="447" y2="639.4" stroke="#231f20" stroke-width="1.3"/>
<text x="447" y="654.5" font-size="11" text-anchor="middle">12</text>
<line x1="487.6" y1="635.6" x2="487.6" y2="639.4" stroke="#231f20" stroke-width="1.3"/>
<text x="487.6" y="654.5" font-size="11" text-anchor="middle">16</text>
<text x="408.7" y="673.4" font-size="13.9" text-anchor="middle" textLength="94.4" lengthAdjust="spacingAndGlyphs" class="cd">Weeks post-transplant</text>
<line x1="366" y1="594.5" x2="366" y2="604.4" stroke="#5a2267" stroke-width="1.2"/>
<line x1="362.8" y1="594.5" x2="369.2" y2="594.5" stroke="#5a2267" stroke-width="1.2"/>
<line x1="406.6" y1="579.3" x2="406.6" y2="598.3" stroke="#5a2267" stroke-width="1.2"/>
<line x1="403.4" y1="579.3" x2="409.8" y2="579.3" stroke="#5a2267" stroke-width="1.2"/>
<line x1="447" y1="577.3" x2="447" y2="600" stroke="#5a2267" stroke-width="1.2"/>
<line x1="443.8" y1="577.3" x2="450.2" y2="577.3" stroke="#5a2267" stroke-width="1.2"/>
<line x1="487.6" y1="580.6" x2="487.6" y2="603.9" stroke="#5a2267" stroke-width="1.2"/>
<line x1="484.4" y1="580.6" x2="490.8" y2="580.6" stroke="#5a2267" stroke-width="1.2"/>
<polyline points="366,604.4 406.6,598.3 447,600 487.6,603.9" fill="none" stroke="#5a2267" stroke-width="1.3"/>
<line x1="366" y1="577.2" x2="366" y2="593.8" stroke="#4a5466" stroke-width="1.2"/>
<line x1="362.8" y1="577.2" x2="369.2" y2="577.2" stroke="#4a5466" stroke-width="1.2"/>
<line x1="406.6" y1="548.8" x2="406.6" y2="570.8" stroke="#4a5466" stroke-width="1.2"/>
<line x1="403.4" y1="548.8" x2="409.8" y2="548.8" stroke="#4a5466" stroke-width="1.2"/>
<line x1="447" y1="542.3" x2="447" y2="567.6" stroke="#4a5466" stroke-width="1.2"/>
<line x1="443.8" y1="542.3" x2="450.2" y2="542.3" stroke="#4a5466" stroke-width="1.2"/>
<line x1="487.6" y1="544.2" x2="487.6" y2="571.9" stroke="#4a5466" stroke-width="1.2"/>
<line x1="484.4" y1="544.2" x2="490.8" y2="544.2" stroke="#4a5466" stroke-width="1.2"/>
<polyline points="366,593.8 406.6,570.8 447,567.6 487.6,571.9" fill="none" stroke="#4a5466" stroke-width="1.3"/>
<circle cx="366" cy="604.4" r="3" fill="#5a2267"/>
<circle cx="406.6" cy="598.3" r="3" fill="#5a2267"/>
<circle cx="447" cy="600" r="3" fill="#5a2267"/>
<circle cx="487.6" cy="603.9" r="3" fill="#5a2267"/>
<circle cx="366" cy="593.8" r="3" fill="#4a5466"/>
<circle cx="406.6" cy="570.8" r="3" fill="#4a5466"/>
<circle cx="447" cy="567.6" r="3" fill="#4a5466"/>
<circle cx="487.6" cy="571.9" r="3" fill="#4a5466"/>
<text x="366" y="573.8" font-size="10.6" text-anchor="middle">ns</text>
<text x="406.8" y="548.1" font-size="10" text-anchor="middle" font-weight="bold" fill="#111" letter-spacing="0.4">**</text>
<text x="447.2" y="541.8" font-size="10" text-anchor="middle" font-weight="bold" fill="#111" letter-spacing="0.4">**</text>
<text x="487.8" y="543.4" font-size="10" text-anchor="middle" font-weight="bold" fill="#111" letter-spacing="0.4">**</text>
<text x="10.5" y="712.8" font-size="17" font-weight="bold" fill="#000">H</text>
<text x="131.6" y="717.3" font-size="12.4" text-anchor="middle" textLength="95.8" lengthAdjust="spacingAndGlyphs">Donor leukocyte</text>
<text x="131.45" y="733" font-size="12.4" text-anchor="middle" textLength="71.2" lengthAdjust="spacingAndGlyphs">engraftment</text>
<text x="23" y="808" font-size="13.8" text-anchor="middle" textLength="49" lengthAdjust="spacingAndGlyphs" transform="rotate(-90 23 808)" class="cd">% CD45.2+</text>
<line x1="80.4" y1="867.3" x2="80.4" y2="871.3" stroke="#231f20" stroke-width="1.3"/>
<line x1="117.3" y1="867.3" x2="117.3" y2="871.3" stroke="#231f20" stroke-width="1.3"/>
<line x1="154.2" y1="867.3" x2="154.2" y2="871.3" stroke="#231f20" stroke-width="1.3"/>
<line x1="191" y1="867.3" x2="191" y2="871.3" stroke="#231f20" stroke-width="1.3"/>
<text x="80.4" y="886.2" font-size="11.2" text-anchor="middle">T cells</text>
<text x="117.2" y="886.2" font-size="11.2" text-anchor="middle">B cells</text>
<text x="154.4" y="886.2" font-size="11.2" text-anchor="middle">Gran</text>
<text x="191.2" y="886.2" font-size="11.2" text-anchor="middle">Mono</text>
<rect x="66.1" y="808.2" width="10.8" height="59.1" fill="#a0a5b3"/>
<line x1="71.3" y1="776.4" x2="71.3" y2="838.2" stroke="#4a5466" stroke-width="1.1"/>
<line x1="68.2" y1="776.4" x2="74.4" y2="776.4" stroke="#4a5466" stroke-width="1.1"/>
<line x1="68.2" y1="838.2" x2="74.4" y2="838.2" stroke="#4a5466" stroke-width="1.1"/>
<circle cx="71.3" cy="769.5" r="1.6" fill="#4a5466"/>
<circle cx="66.5" cy="772.4" r="1.6" fill="#4a5466"/>
<circle cx="71.3" cy="772.4" r="1.6" fill="#4a5466"/>
<circle cx="76.2" cy="772.7" r="1.6" fill="#4a5466"/>
<circle cx="71.3" cy="784" r="1.6" fill="#4a5466"/>
<circle cx="71.3" cy="788.6" r="1.6" fill="#4a5466"/>
<circle cx="71.3" cy="804.2" r="1.6" fill="#4a5466"/>
<circle cx="68.7" cy="820.8" r="1.6" fill="#4a5466"/>
<circle cx="71.3" cy="820.8" r="1.6" fill="#4a5466"/>
<circle cx="74.2" cy="820.8" r="1.6" fill="#4a5466"/>
<circle cx="71.3" cy="838.2" r="1.6" fill="#4a5466"/>
<circle cx="71.3" cy="844" r="1.6" fill="#4a5466"/>
<circle cx="71.3" cy="848" r="1.6" fill="#4a5466"/>
<circle cx="71.3" cy="853.1" r="1.6" fill="#4a5466"/>
<rect x="103.1" y="795.2" width="10.8" height="72.1" fill="#a0a5b3"/>
<line x1="108.3" y1="765.6" x2="108.3" y2="822.3" stroke="#4a5466" stroke-width="1.1"/>
<line x1="105.2" y1="765.6" x2="111.4" y2="765.6" stroke="#4a5466" stroke-width="1.1"/>
<line x1="105.2" y1="822.3" x2="111.4" y2="822.3" stroke="#4a5466" stroke-width="1.1"/>
<circle cx="108.3" cy="769.2" r="1.6" fill="#4a5466"/>
<circle cx="103.5" cy="771.6" r="1.6" fill="#4a5466"/>
<circle cx="106.4" cy="770.9" r="1.6" fill="#4a5466"/>
<circle cx="110" cy="770.9" r="1.6" fill="#4a5466"/>
<circle cx="112.9" cy="772.7" r="1.6" fill="#4a5466"/>
<circle cx="108.3" cy="774.5" r="1.6" fill="#4a5466"/>
<circle cx="108.3" cy="776.7" r="1.6" fill="#4a5466"/>
<circle cx="106.8" cy="784" r="1.6" fill="#4a5466"/>
<circle cx="110" cy="784" r="1.6" fill="#4a5466"/>
<circle cx="106.8" cy="791.5" r="1.6" fill="#4a5466"/>
<circle cx="110" cy="791.5" r="1.6" fill="#4a5466"/>
<circle cx="108.3" cy="801.3" r="1.6" fill="#4a5466"/>
<circle cx="106.8" cy="835.3" r="1.6" fill="#4a5466"/>
<circle cx="110.3" cy="836.7" r="1.6" fill="#4a5466"/>
<circle cx="108.3" cy="856.2" r="1.6" fill="#4a5466"/>
<rect x="140.1" y="812.4" width="10.8" height="54.9" fill="#a0a5b3"/>
<line x1="145.3" y1="772.7" x2="145.3" y2="849" stroke="#4a5466" stroke-width="1.1"/>
<line x1="142.2" y1="772.7" x2="148.4" y2="772.7" stroke="#4a5466" stroke-width="1.1"/>
<line x1="142.2" y1="849" x2="148.4" y2="849" stroke="#4a5466" stroke-width="1.1"/>
<circle cx="145.3" cy="761.5" r="1.6" fill="#4a5466"/>
<circle cx="150.3" cy="759.4" r="1.6" fill="#4a5466"/>
<circle cx="145.3" cy="768.3" r="1.6" fill="#4a5466"/>
<circle cx="144.1" cy="772.4" r="1.6" fill="#4a5466"/>
<circle cx="147" cy="772.4" r="1.6" fill="#4a5466"/>
<circle cx="145.3" cy="782.9" r="1.6" fill="#4a5466"/>
<circle cx="142.7" cy="802.7" r="1.6" fill="#4a5466"/>
<circle cx="145.3" cy="802.4" r="1.6" fill="#4a5466"/>
<circle cx="147.7" cy="802.4" r="1.6" fill="#4a5466"/>
<circle cx="145.3" cy="808.5" r="1.6" fill="#4a5466"/>
<circle cx="145.3" cy="827.3" r="1.6" fill="#4a5466"/>
<circle cx="145.3" cy="842.2" r="1.6" fill="#4a5466"/>
<circle cx="140.5" cy="851.6" r="1.6" fill="#4a5466"/>
<circle cx="145.3" cy="853.1" r="1.6" fill="#4a5466"/>
<circle cx="150.2" cy="852.2" r="1.6" fill="#4a5466"/>
<circle cx="145.3" cy="867" r="1.6" fill="#4a5466"/>
<rect x="177.1" y="808.2" width="10.8" height="59.1" fill="#a0a5b3"/>
<line x1="182.3" y1="770.2" x2="182.3" y2="844" stroke="#4a5466" stroke-width="1.1"/>
<line x1="179.2" y1="770.2" x2="185.4" y2="770.2" stroke="#4a5466" stroke-width="1.1"/>
<line x1="179.2" y1="844" x2="185.4" y2="844" stroke="#4a5466" stroke-width="1.1"/>
<circle cx="178.9" cy="762.2" r="1.6" fill="#4a5466"/>
<circle cx="185.4" cy="759.8" r="1.6" fill="#4a5466"/>
<circle cx="182.3" cy="766.3" r="1.6" fill="#4a5466"/>
<circle cx="178.9" cy="776" r="1.6" fill="#4a5466"/>
<circle cx="185.4" cy="775" r="1.6" fill="#4a5466"/>
<circle cx="182.3" cy="791.2" r="1.6" fill="#4a5466"/>
<circle cx="182.3" cy="807.4" r="1.6" fill="#4a5466"/>
<circle cx="178.9" cy="813.9" r="1.6" fill="#4a5466"/>
<circle cx="185.4" cy="813.9" r="1.6" fill="#4a5466"/>
<circle cx="182.3" cy="817.9" r="1.6" fill="#4a5466"/>
<circle cx="182.3" cy="841.5" r="1.6" fill="#4a5466"/>
<circle cx="178.9" cy="854.1" r="1.6" fill="#4a5466"/>
<circle cx="185.4" cy="857" r="1.6" fill="#4a5466"/>
<circle cx="182.3" cy="865.6" r="1.6" fill="#4a5466"/>
<rect x="85.3" y="847.1" width="9.7" height="20.2" fill="#a67cae"/>
<line x1="89.9" y1="821.2" x2="89.9" y2="867.3" stroke="#5a2267" stroke-width="1.1"/>
<line x1="86.8" y1="821.2" x2="93" y2="821.2" stroke="#5a2267" stroke-width="1.1"/>
<circle cx="89.9" cy="781" r="1.6" fill="#5a2267"/>
<circle cx="89.9" cy="812.4" r="1.6" fill="#5a2267"/>
<circle cx="89.9" cy="816.8" r="1.6" fill="#5a2267"/>
<circle cx="89.9" cy="838.6" r="1.6" fill="#5a2267"/>
<circle cx="89.9" cy="848.3" r="1.6" fill="#5a2267"/>
<circle cx="87.4" cy="851.9" r="1.6" fill="#5a2267"/>
<circle cx="91.8" cy="852.6" r="1.6" fill="#5a2267"/>
<circle cx="89.9" cy="856.2" r="1.6" fill="#5a2267"/>
<circle cx="92.5" cy="859.1" r="1.6" fill="#5a2267"/>
<circle cx="86" cy="862" r="1.6" fill="#5a2267"/>
<circle cx="90.6" cy="862" r="1.6" fill="#5a2267"/>
<circle cx="85.3" cy="865.6" r="1.6" fill="#5a2267"/>
<circle cx="89.6" cy="865.6" r="1.6" fill="#5a2267"/>
<circle cx="94.7" cy="865.6" r="1.6" fill="#5a2267"/>
<rect x="121.8" y="824" width="9.9" height="43.3" fill="#a67cae"/>
<line x1="126.9" y1="794.4" x2="126.9" y2="867.3" stroke="#5a2267" stroke-width="1.1"/>
<line x1="123.8" y1="794.4" x2="130" y2="794.4" stroke="#5a2267" stroke-width="1.1"/>
<circle cx="126.9" cy="764" r="1.6" fill="#5a2267"/>
<circle cx="126.9" cy="780" r="1.6" fill="#5a2267"/>
<circle cx="126.9" cy="790.4" r="1.6" fill="#5a2267"/>
<circle cx="126.9" cy="808.8" r="1.6" fill="#5a2267"/>
<circle cx="126.9" cy="813.6" r="1.6" fill="#5a2267"/>
<circle cx="122.3" cy="821.2" r="1.6" fill="#5a2267"/>
<circle cx="131.7" cy="821.2" r="1.6" fill="#5a2267"/>
<circle cx="126.9" cy="824.1" r="1.6" fill="#5a2267"/>
<circle cx="126.9" cy="829.1" r="1.6" fill="#5a2267"/>
<circle cx="126.9" cy="833.8" r="1.6" fill="#5a2267"/>
<circle cx="126.9" cy="837.4" r="1.6" fill="#5a2267"/>
<circle cx="126.9" cy="843.2" r="1.6" fill="#5a2267"/>
<circle cx="126.9" cy="846.8" r="1.6" fill="#5a2267"/>
<circle cx="124.4" cy="861.7" r="1.6" fill="#5a2267"/>
<circle cx="129.1" cy="860.3" r="1.6" fill="#5a2267"/>
<rect x="158.8" y="847.1" width="10.1" height="20.2" fill="#a67cae"/>
<line x1="163.9" y1="823.7" x2="163.9" y2="867.3" stroke="#5a2267" stroke-width="1.1"/>
<line x1="160.8" y1="823.7" x2="167" y2="823.7" stroke="#5a2267" stroke-width="1.1"/>
<circle cx="163.9" cy="795.8" r="1.6" fill="#5a2267"/>
<circle cx="163.9" cy="804.2" r="1.6" fill="#5a2267"/>
<circle cx="163.9" cy="828.3" r="1.6" fill="#5a2267"/>
<circle cx="162.2" cy="835" r="1.6" fill="#5a2267"/>
<circle cx="165.5" cy="837.7" r="1.6" fill="#5a2267"/>
<circle cx="163.9" cy="844" r="1.6" fill="#5a2267"/>
<circle cx="163.9" cy="851.9" r="1.6" fill="#5a2267"/>
<circle cx="161.7" cy="857.7" r="1.6" fill="#5a2267"/>
<circle cx="165.5" cy="857.7" r="1.6" fill="#5a2267"/>
<circle cx="161.4" cy="862" r="1.6" fill="#5a2267"/>
<circle cx="166" cy="862" r="1.6" fill="#5a2267"/>
<circle cx="160.6" cy="865.6" r="1.6" fill="#5a2267"/>
<circle cx="164.3" cy="865.6" r="1.6" fill="#5a2267"/>
<circle cx="168.2" cy="865.6" r="1.6" fill="#5a2267"/>
<rect x="195.5" y="847.3" width="10.2" height="20" fill="#a67cae"/>
<line x1="200.6" y1="824.4" x2="200.6" y2="867.3" stroke="#5a2267" stroke-width="1.1"/>
<line x1="197.5" y1="824.4" x2="203.7" y2="824.4" stroke="#5a2267" stroke-width="1.1"/>
<circle cx="200.6" cy="789" r="1.6" fill="#5a2267"/>
<circle cx="200.6" cy="805.9" r="1.6" fill="#5a2267"/>
<circle cx="200.6" cy="836.7" r="1.6" fill="#5a2267"/>
<circle cx="200.6" cy="840.3" r="1.6" fill="#5a2267"/>
<circle cx="205.4" cy="845.8" r="1.6" fill="#5a2267"/>
<circle cx="198.4" cy="847.6" r="1.6" fill="#5a2267"/>
<circle cx="202" cy="847.6" r="1.6" fill="#5a2267"/>
<circle cx="200.6" cy="851.9" r="1.6" fill="#5a2267"/>
<circle cx="200.6" cy="857" r="1.6" fill="#5a2267"/>
<circle cx="197" cy="862" r="1.6" fill="#5a2267"/>
<circle cx="202" cy="862" r="1.6" fill="#5a2267"/>
<circle cx="196.3" cy="865.6" r="1.6" fill="#5a2267"/>
<circle cx="205.4" cy="865" r="1.6" fill="#5a2267"/>
<line x1="68.4" y1="754.3" x2="90" y2="754.3" stroke="#111" stroke-width="1.4"/>
<text x="80" y="753.9" font-size="10" text-anchor="middle" font-weight="bold" fill="#111" letter-spacing="0.4">***</text>
<line x1="104.9" y1="754.3" x2="126.6" y2="754.3" stroke="#111" stroke-width="1.4"/>
<text x="116.55" y="753.9" font-size="10" text-anchor="middle" font-weight="bold" fill="#111" letter-spacing="0.4">*</text>
<line x1="144.8" y1="754.3" x2="166.1" y2="754.3" stroke="#111" stroke-width="1.4"/>
<text x="156.25" y="753.9" font-size="10" text-anchor="middle" font-weight="bold" fill="#111" letter-spacing="0.4">**</text>
<line x1="182.6" y1="754.3" x2="203.9" y2="754.3" stroke="#111" stroke-width="1.4"/>
<text x="194.05" y="753.9" font-size="10" text-anchor="middle" font-weight="bold" fill="#111" letter-spacing="0.4">**</text>
<text x="244.6" y="713.1" font-size="17" font-weight="bold" fill="#000">I</text>
<text x="323.1" y="717" font-size="12.4" text-anchor="middle" textLength="70.8" lengthAdjust="spacingAndGlyphs">Multilineage</text>
<text x="321.35" y="733" font-size="12.4" text-anchor="middle" textLength="71.1" lengthAdjust="spacingAndGlyphs">engraftment</text>
<text x="248.1" y="808.5" font-size="13.8" text-anchor="middle" textLength="52.3" lengthAdjust="spacingAndGlyphs" transform="rotate(-90 248.1 808.5)" class="cd">% Engrafted</text>
<rect x="296.9" y="761.4" width="20" height="106.4" fill="#9c9ca8"/>
<rect x="330.2" y="807.5" width="19.6" height="60.3" fill="#a67cae"/>
<line x1="312.9" y1="753.1" x2="334.5" y2="753.1" stroke="#111" stroke-width="1.4"/>
<text x="324.2" y="752.5" font-size="10" text-anchor="middle" font-weight="bold" fill="#111" letter-spacing="0.4">*</text>
<text x="392" y="713.1" font-size="17" textLength="7.4" lengthAdjust="spacingAndGlyphs" font-weight="bold" fill="#000">J</text>
<text x="471.3" y="717" font-size="12.4" text-anchor="middle" textLength="29.9" lengthAdjust="spacingAndGlyphs">HSC</text>
<text x="470.3" y="733" font-size="12.4" text-anchor="middle" textLength="69.8" lengthAdjust="spacingAndGlyphs">engraftment</text>
<text x="396.2" y="808.1" font-size="13.8" text-anchor="middle" textLength="49.4" lengthAdjust="spacingAndGlyphs" transform="rotate(-90 396.2 808.1)" class="cd">% CD45.2+</text>
<rect x="445" y="816.8" width="19.8" height="51" fill="#a0a5b3"/>
<line x1="454.8" y1="766.5" x2="454.8" y2="865.9" stroke="#4a5466" stroke-width="1.1"/>
<line x1="449.4" y1="766.5" x2="460.2" y2="766.5" stroke="#4a5466" stroke-width="1.1"/>
<line x1="449.4" y1="865.9" x2="460.2" y2="865.9" stroke="#4a5466" stroke-width="1.1"/>
<circle cx="451.2" cy="755.5" r="1.6" fill="#4a5466"/>
<circle cx="458.1" cy="754.4" r="1.6" fill="#4a5466"/>
<circle cx="454.8" cy="761.2" r="1.6" fill="#4a5466"/>
<circle cx="450.9" cy="767.8" r="1.6" fill="#4a5466"/>
<circle cx="454.8" cy="767.8" r="1.6" fill="#4a5466"/>
<circle cx="458.6" cy="767.8" r="1.6" fill="#4a5466"/>
<circle cx="454.8" cy="778.1" r="1.6" fill="#4a5466"/>
<circle cx="454.8" cy="804.1" r="1.6" fill="#4a5466"/>
<circle cx="454.8" cy="848.2" r="1.6" fill="#4a5466"/>
<circle cx="451.2" cy="860.1" r="1.6" fill="#4a5466"/>
<circle cx="458.1" cy="859.3" r="1.6" fill="#4a5466"/>
<circle cx="447" cy="867" r="1.6" fill="#4a5466"/>
<circle cx="451" cy="867" r="1.6" fill="#4a5466"/>
<circle cx="455" cy="867" r="1.6" fill="#4a5466"/>
<circle cx="459" cy="867" r="1.6" fill="#4a5466"/>
<circle cx="463" cy="867" r="1.6" fill="#4a5466"/>
<rect x="477.7" y="856.4" width="20.1" height="11.4" fill="#a67cae"/>
<line x1="487.7" y1="839.4" x2="487.7" y2="867.8" stroke="#5a2267" stroke-width="1.1"/>
<line x1="482.5" y1="839.4" x2="492.9" y2="839.4" stroke="#5a2267" stroke-width="1.1"/>
<circle cx="487.7" cy="823" r="1.6" fill="#5a2267"/>
<circle cx="485.9" cy="830.7" r="1.6" fill="#5a2267"/>
<circle cx="489.3" cy="829.6" r="1.6" fill="#5a2267"/>
<circle cx="484.8" cy="848.2" r="1.6" fill="#5a2267"/>
<circle cx="487.7" cy="851.5" r="1.6" fill="#5a2267"/>
<circle cx="490.8" cy="855.7" r="1.6" fill="#5a2267"/>
<circle cx="487.7" cy="861" r="1.6" fill="#5a2267"/>
<circle cx="480" cy="867" r="1.6" fill="#5a2267"/>
<circle cx="484" cy="867" r="1.6" fill="#5a2267"/>
<circle cx="488" cy="867" r="1.6" fill="#5a2267"/>
<circle cx="492" cy="867" r="1.6" fill="#5a2267"/>
<circle cx="496" cy="867" r="1.6" fill="#5a2267"/>
<line x1="462.7" y1="751" x2="483.6" y2="751" stroke="#111" stroke-width="1.4"/>
<text x="473.4" y="750.4" font-size="10" text-anchor="middle" font-weight="bold" fill="#111" letter-spacing="0.4">**</text>
<line x1="284.6" y1="46.9" x2="284.6" y2="173.45" stroke="#231f20" stroke-width="1.5"/>
<line x1="280.3" y1="172.7" x2="284.6" y2="172.7" stroke="#231f20" stroke-width="1.5"/>
<text x="275" y="176.6" font-size="11.2" text-anchor="end">0</text>
<line x1="280.3" y1="148.32" x2="284.6" y2="148.32" stroke="#231f20" stroke-width="1.5"/>
<text x="275" y="152.22" font-size="11.2" text-anchor="end">20</text>
<line x1="280.3" y1="123.94" x2="284.6" y2="123.94" stroke="#231f20" stroke-width="1.5"/>
<text x="275" y="127.84" font-size="11.2" text-anchor="end">40</text>
<line x1="280.3" y1="99.56" x2="284.6" y2="99.56" stroke="#231f20" stroke-width="1.5"/>
<text x="275" y="103.46" font-size="11.2" text-anchor="end">60</text>
<line x1="280.3" y1="75.18" x2="284.6" y2="75.18" stroke="#231f20" stroke-width="1.5"/>
<text x="275" y="79.08" font-size="11.2" text-anchor="end">80</text>
<line x1="280.3" y1="50.8" x2="284.6" y2="50.8" stroke="#231f20" stroke-width="1.5"/>
<text x="275" y="54.7" font-size="11.2" text-anchor="end">100</text>
<line x1="280.3" y1="172.7" x2="450.6" y2="172.7" stroke="#231f20" stroke-width="1.5"/>
<line x1="58.7" y1="286" x2="58.7" y2="406.35" stroke="#231f20" stroke-width="1.5"/>
<line x1="54.4" y1="405.6" x2="58.7" y2="405.6" stroke="#231f20" stroke-width="1.5"/>
<text x="50.2" y="409.5" font-size="11.2" text-anchor="end">0</text>
<line x1="54.4" y1="382.48" x2="58.7" y2="382.48" stroke="#231f20" stroke-width="1.5"/>
<text x="50.2" y="386.38" font-size="11.2" text-anchor="end">20</text>
<line x1="54.4" y1="359.36" x2="58.7" y2="359.36" stroke="#231f20" stroke-width="1.5"/>
<text x="50.2" y="363.26" font-size="11.2" text-anchor="end">40</text>
<line x1="54.4" y1="336.24" x2="58.7" y2="336.24" stroke="#231f20" stroke-width="1.5"/>
<text x="50.2" y="340.14" font-size="11.2" text-anchor="end">60</text>
<line x1="54.4" y1="313.12" x2="58.7" y2="313.12" stroke="#231f20" stroke-width="1.5"/>
<text x="50.2" y="317.02" font-size="11.2" text-anchor="end">80</text>
<line x1="54.4" y1="290" x2="58.7" y2="290" stroke="#231f20" stroke-width="1.5"/>
<text x="50.2" y="293.9" font-size="11.2" text-anchor="end">100</text>
<line x1="54.4" y1="405.6" x2="212.7" y2="405.6" stroke="#231f20" stroke-width="1.5"/>
<line x1="284.6" y1="286" x2="284.6" y2="406.05" stroke="#231f20" stroke-width="1.5"/>
<line x1="280.3" y1="405.3" x2="284.6" y2="405.3" stroke="#231f20" stroke-width="1.5"/>
<text x="275.2" y="409.2" font-size="11.2" text-anchor="end">0</text>
<line x1="280.3" y1="382.18" x2="284.6" y2="382.18" stroke="#231f20" stroke-width="1.5"/>
<text x="275.2" y="386.08" font-size="11.2" text-anchor="end">20</text>
<line x1="280.3" y1="359.06" x2="284.6" y2="359.06" stroke="#231f20" stroke-width="1.5"/>
<text x="275.2" y="362.96" font-size="11.2" text-anchor="end">40</text>
<line x1="280.3" y1="335.94" x2="284.6" y2="335.94" stroke="#231f20" stroke-width="1.5"/>
<text x="275.2" y="339.84" font-size="11.2" text-anchor="end">60</text>
<line x1="280.3" y1="312.82" x2="284.6" y2="312.82" stroke="#231f20" stroke-width="1.5"/>
<text x="275.2" y="316.72" font-size="11.2" text-anchor="end">80</text>
<line x1="280.3" y1="289.7" x2="284.6" y2="289.7" stroke="#231f20" stroke-width="1.5"/>
<text x="275.2" y="293.6" font-size="11.2" text-anchor="end">100</text>
<line x1="280.3" y1="405.3" x2="361.7" y2="405.3" stroke="#231f20" stroke-width="1.5"/>
<line x1="433.1" y1="286" x2="433.1" y2="406.25" stroke="#231f20" stroke-width="1.5"/>
<line x1="428.8" y1="405.5" x2="433.1" y2="405.5" stroke="#231f20" stroke-width="1.5"/>
<text x="423.6" y="409.4" font-size="11.2" text-anchor="end">0</text>
<line x1="428.8" y1="382.46" x2="433.1" y2="382.46" stroke="#231f20" stroke-width="1.5"/>
<text x="423.6" y="386.36" font-size="11.2" text-anchor="end">20</text>
<line x1="428.8" y1="359.42" x2="433.1" y2="359.42" stroke="#231f20" stroke-width="1.5"/>
<text x="423.6" y="363.32" font-size="11.2" text-anchor="end">40</text>
<line x1="428.8" y1="336.38" x2="433.1" y2="336.38" stroke="#231f20" stroke-width="1.5"/>
<text x="423.6" y="340.28" font-size="11.2" text-anchor="end">60</text>
<line x1="428.8" y1="313.34" x2="433.1" y2="313.34" stroke="#231f20" stroke-width="1.5"/>
<text x="423.6" y="317.24" font-size="11.2" text-anchor="end">80</text>
<line x1="428.8" y1="290.3" x2="433.1" y2="290.3" stroke="#231f20" stroke-width="1.5"/>
<text x="423.6" y="294.2" font-size="11.2" text-anchor="end">100</text>
<line x1="428.8" y1="405.5" x2="510.1" y2="405.5" stroke="#231f20" stroke-width="1.5"/>
<line x1="325.4" y1="510.2" x2="325.4" y2="636.35" stroke="#231f20" stroke-width="1.5"/>
<line x1="321.1" y1="635.6" x2="325.4" y2="635.6" stroke="#231f20" stroke-width="1.5"/>
<text x="315.8" y="639.5" font-size="11.2" text-anchor="end">0</text>
<line x1="321.1" y1="611.36" x2="325.4" y2="611.36" stroke="#231f20" stroke-width="1.5"/>
<text x="315.8" y="615.26" font-size="11.2" text-anchor="end">20</text>
<line x1="321.1" y1="587.12" x2="325.4" y2="587.12" stroke="#231f20" stroke-width="1.5"/>
<text x="315.8" y="591.02" font-size="11.2" text-anchor="end">40</text>
<line x1="321.1" y1="562.88" x2="325.4" y2="562.88" stroke="#231f20" stroke-width="1.5"/>
<text x="315.8" y="566.78" font-size="11.2" text-anchor="end">60</text>
<line x1="321.1" y1="538.64" x2="325.4" y2="538.64" stroke="#231f20" stroke-width="1.5"/>
<text x="315.8" y="542.54" font-size="11.2" text-anchor="end">80</text>
<line x1="321.1" y1="514.4" x2="325.4" y2="514.4" stroke="#231f20" stroke-width="1.5"/>
<text x="315.8" y="518.3" font-size="11.2" text-anchor="end">100</text>
<line x1="321.1" y1="635.6" x2="491.9" y2="635.6" stroke="#231f20" stroke-width="1.5"/>
<line x1="58.5" y1="748.5" x2="58.5" y2="868.05" stroke="#231f20" stroke-width="1.5"/>
<line x1="54.2" y1="867.3" x2="58.5" y2="867.3" stroke="#231f20" stroke-width="1.5"/>
<text x="50.2" y="871.2" font-size="11.2" text-anchor="end">0</text>
<line x1="54.2" y1="844.24" x2="58.5" y2="844.24" stroke="#231f20" stroke-width="1.5"/>
<text x="50.2" y="848.14" font-size="11.2" text-anchor="end">20</text>
<line x1="54.2" y1="821.18" x2="58.5" y2="821.18" stroke="#231f20" stroke-width="1.5"/>
<text x="50.2" y="825.08" font-size="11.2" text-anchor="end">40</text>
<line x1="54.2" y1="798.12" x2="58.5" y2="798.12" stroke="#231f20" stroke-width="1.5"/>
<text x="50.2" y="802.02" font-size="11.2" text-anchor="end">60</text>
<line x1="54.2" y1="775.06" x2="58.5" y2="775.06" stroke="#231f20" stroke-width="1.5"/>
<text x="50.2" y="778.96" font-size="11.2" text-anchor="end">80</text>
<line x1="54.2" y1="752" x2="58.5" y2="752" stroke="#231f20" stroke-width="1.5"/>
<text x="50.2" y="755.9" font-size="11.2" text-anchor="end">100</text>
<line x1="54.2" y1="867.3" x2="212.7" y2="867.3" stroke="#231f20" stroke-width="1.5"/>
<line x1="284.6" y1="748.8" x2="284.6" y2="868.55" stroke="#231f20" stroke-width="1.5"/>
<line x1="280.3" y1="867.8" x2="284.6" y2="867.8" stroke="#231f20" stroke-width="1.5"/>
<text x="275.2" y="871.7" font-size="11.2" text-anchor="end">0</text>
<line x1="280.3" y1="844.74" x2="284.6" y2="844.74" stroke="#231f20" stroke-width="1.5"/>
<text x="275.2" y="848.64" font-size="11.2" text-anchor="end">20</text>
<line x1="280.3" y1="821.68" x2="284.6" y2="821.68" stroke="#231f20" stroke-width="1.5"/>
<text x="275.2" y="825.58" font-size="11.2" text-anchor="end">40</text>
<line x1="280.3" y1="798.62" x2="284.6" y2="798.62" stroke="#231f20" stroke-width="1.5"/>
<text x="275.2" y="802.52" font-size="11.2" text-anchor="end">60</text>
<line x1="280.3" y1="775.56" x2="284.6" y2="775.56" stroke="#231f20" stroke-width="1.5"/>
<text x="275.2" y="779.46" font-size="11.2" text-anchor="end">80</text>
<line x1="280.3" y1="752.5" x2="284.6" y2="752.5" stroke="#231f20" stroke-width="1.5"/>
<text x="275.2" y="756.4" font-size="11.2" text-anchor="end">100</text>
<line x1="280.3" y1="867.8" x2="361.5" y2="867.8" stroke="#231f20" stroke-width="1.5"/>
<line x1="433.8" y1="748.8" x2="433.8" y2="868.55" stroke="#231f20" stroke-width="1.5"/>
<line x1="429.5" y1="867.8" x2="433.8" y2="867.8" stroke="#231f20" stroke-width="1.5"/>
<text x="424" y="871.7" font-size="11.2" text-anchor="end">0</text>
<line x1="429.5" y1="844.74" x2="433.8" y2="844.74" stroke="#231f20" stroke-width="1.5"/>
<text x="424" y="848.64" font-size="11.2" text-anchor="end">20</text>
<line x1="429.5" y1="821.68" x2="433.8" y2="821.68" stroke="#231f20" stroke-width="1.5"/>
<text x="424" y="825.58" font-size="11.2" text-anchor="end">40</text>
<line x1="429.5" y1="798.62" x2="433.8" y2="798.62" stroke="#231f20" stroke-width="1.5"/>
<text x="424" y="802.52" font-size="11.2" text-anchor="end">60</text>
<line x1="429.5" y1="775.56" x2="433.8" y2="775.56" stroke="#231f20" stroke-width="1.5"/>
<text x="424" y="779.46" font-size="11.2" text-anchor="end">80</text>
<line x1="429.5" y1="752.5" x2="433.8" y2="752.5" stroke="#231f20" stroke-width="1.5"/>
<text x="424" y="756.4" font-size="11.2" text-anchor="end">100</text>
<line x1="429.5" y1="867.8" x2="509.8" y2="867.8" stroke="#231f20" stroke-width="1.5"/>
<rect x="0.5" y="0.5" width="519" height="898" fill="none" stroke="#2a2a2a" stroke-width="1"/>
</svg></body></html>
